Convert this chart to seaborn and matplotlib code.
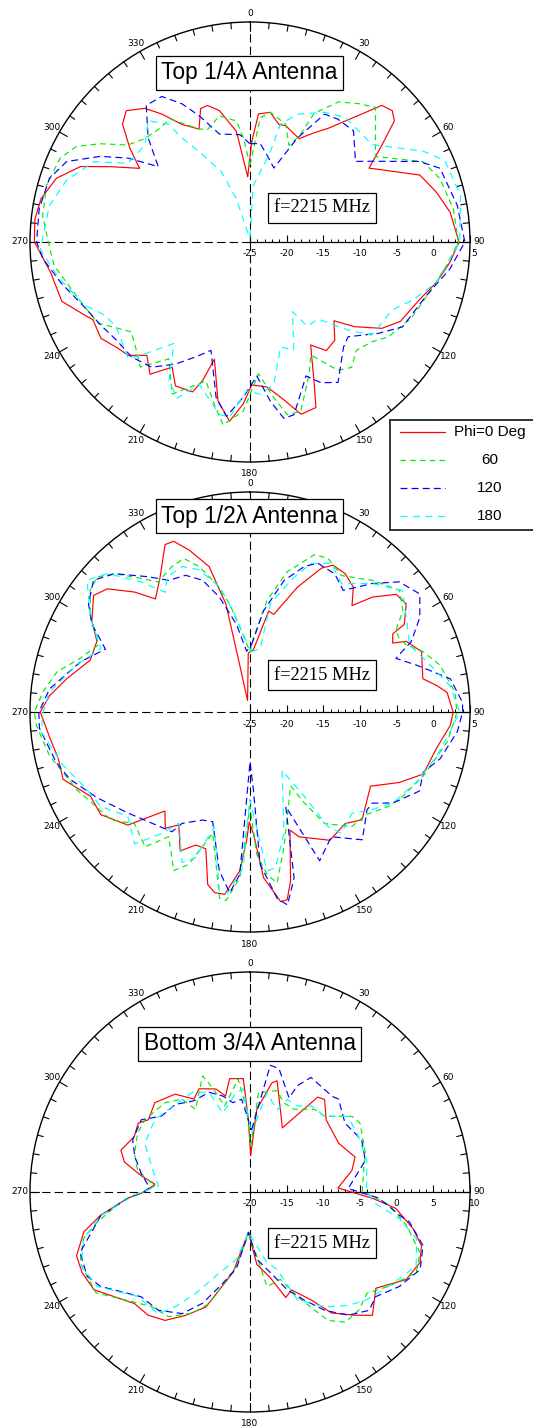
import numpy as np
import pandas as pd
import matplotlib
matplotlib.use("Agg")
import matplotlib.pyplot as plt
from matplotlib.patches import Rectangle
from matplotlib.transforms import ScaledTranslation
import seaborn as sns

sns.set_style("white")
plt.rcParams["font.family"] = ["DejaVu Sans"]
plt.rcParams["text.color"] = "black"
plt.rcParams["lines.scale_dashes"] = False

# ---------------- Top 1/4 lambda antenna (dB vs. theta, deg) ----------------
q_ang_phi0 = [1.0, 3.8, 8.9, 13.8, 17.0, 25.4, 30.5, 34.5, 44.0, 47.3, 50.0, 53.6, 58.2, 59.8, 68.5, 75.0, 81.6, 90.0,
              95.8, 102.3, 108.8, 117.8, 123.2, 128.9, 133.2, 139.2, 144.9, 149.5, 155.7, 158.3, 163.5, 167.9, 173.3,
              179.3, 182.4, 186.5, 191.4, 196.9, 198.9, 201.0, 207.4, 211.9, 217.1, 222.3, 227.1, 231.1, 237.1, 243.7,
              246.3, 252.5, 261.3, 270.0, 276.0, 281.7, 288.2, 294.0, 298.4, 303.7, 308.0, 312.8, 316.7, 321.8, 325.4,
              330.0, 335.7, 339.7, 342.7, 346.9, 353.0, 358.0]
q_db_phi0 = [-11.3, -7.5, -7.1, -8.5, -8.4, -9.4, -7.7, -6.2, 0.9, 1.4, 0.7, -2.6, -5.9, -5.2, -0.1, 1.3, 2.6, 3.5,
             2.4, 1.0, -0.6, -1.8, -3.5, -6.6, -9.3, -7.3, -6.9, -8.7, -3.7, -0.7, -0.5, -3.0, -5.1,
             -5.5, -2.9, -0.4, -2.9, -8.3, -5.0, -3.1, -2.9, -4.9, -2.4, -4.1, -2.3, -1.9, -0.8, -1.1,
             -0.3, 1.9, 2.5, 4.4, 4.5, 4.1, 2.8, 0.3, -3.4, -6.9, -4.2, -1.3, -0.4, -1.8, -3.8,
             -6.5, -8.1, -5.6, -5.5, -6.6, -9.8, -16.1]
q_ang_phi60 = [0.0, 4.7, 8.9, 16.8, 22.0, 25.0, 26.5, 32.3, 38.2, 43.0, 55.7, 65.1, 71.5, 80.8, 90.0, 96.9, 105.8,
               115.3, 124.3, 129.3, 135.5, 141.0, 145.6, 151.7, 155.8, 163.3, 167.8, 171.3, 176.3, 182.3, 188.4,
               192.3, 197.6, 202.7, 207.1, 214.8, 221.3, 225.9, 232.9, 241.9, 250.7, 263.1, 270.0, 277.2, 285.6,
               293.8, 298.9, 303.3, 308.4, 314.5, 320.9, 327.0, 335.7, 339.4, 346.4, 353.6, 356.3]
q_db_phi60 = [-14.5, -8.0, -7.1, -8.2, -10.8, -9.0, -5.4, -2.4, -1.0, 0.1, -4.3, 1.0, 2.3, 3.1, 3.4, 2.0, 0.4,
              -0.7, -2.1, -3.5, -4.3, -3.0, -3.8, -7.5, -5.3, -0.9, -0.9, -3.5, -7.0, -1.9, 0.2,
              -2.3, -5.1, -3.5, -1.7, -5.6, -2.3, -3.5, -4.7, -1.5, -0.5, 1.9, 2.5, 3.5, 3.8,
              3.3, 2.0, -0.6, -3.7, -4.9, -5.2, -5.0, -8.1, -8.6, -7.3, -8.4, -10.7]
q_ang_phi120 = [0.0, 5.9, 11.0, 17.9, 24.5, 30.3, 35.7, 43.0, 52.6, 56.6, 64.6, 68.8, 80.0, 90.0, 97.7, 107.1, 119.1,
                125.4, 134.0, 138.4, 147.9, 153.2, 157.3, 165.7, 169.1, 172.7, 177.1, 182.5, 187.7, 192.3, 199.8,
                205.2, 211.4, 218.1, 225.8, 233.7, 240.9, 248.8, 257.9, 265.3, 270.0, 278.9, 287.6, 293.7, 299.8,
                304.5, 309.4, 315.7, 322.8, 328.8, 333.8, 338.0, 344.2, 354.6]
q_db_phi120 = [-11.6, -11.5, -12.9, -14.4, -9.4, -4.8, -4.4, -4.3, -6.9, -5.0, 0.6, 2.8, 3.7, 4.3, 2.5, 0.1, -1.2,
               -3.5, -6.4, -5.8, -2.4, -3.5, -5.2, -0.7, -0.5, -3.1, -6.7, -3.8, -1.0, -3.3, -9.3,
               -7.7, -5.5, -3.3, -2.5, -2.4, -1.7, -0.7, 1.4, 3.3, 4.1, 4.1, 3.7, 2.3, -1.5,
               -4.8, -8.8, -5.1, -1.6, -1.8, -4.0, -6.4, -9.7, -10.3]
q_ang_phi180 = [0.0, 3.4, 12.7, 14.5, 20.4, 29.9, 37.3, 51.4, 62.4, 67.3, 77.5, 90.0, 102.3, 109.5, 115.5, 127.4,
                131.9, 138.6, 145.8, 148.6, 157.9, 163.8, 170.5, 176.2, 181.3, 186.6, 190.0, 199.7, 205.0, 210.3,
                216.9, 223.2, 226.2, 237.7, 243.4, 249.3, 260.0, 268.0, 280.3, 288.6, 297.3, 302.8, 312.8, 320.0,
                325.3, 326.9, 331.4, 337.7, 342.5, 356.0]
q_db_phi180 = [-24.2, -17.3, -12.4, -8.4, -6.4, -4.6, -3.6, -3.7, 1.7, 3.8, 4.4, 3.6, 1.0, -1.4, -3.5, -4.1,
               -7.0, -11.0, -11.1, -13.9, -9.1, -10.1, -5.3, -4.2, -4.7, -1.0, -1.1, -4.4, -1.5, -3.1,
               -7.7, -4.1, -2.0, -3.4, -2.8, -0.8, 1.7, 3.6, 2.8, 1.4, -1.1, -5.2, -5.5, -3.4,
               -5.5, -8.1, -11.4, -14.6, -18.8, -24.5]

# ---------------- Top 1/2 lambda antenna ----------------
h_ang_phi0 = [3.1, 10.5, 13.7, 20.8, 26.4, 29.5, 34.5, 39.6, 43.8, 46.8, 51.2, 55.3, 60.4, 61.3, 64.2, 65.7, 70.6,
              79.1, 81.9, 84.3, 90.0, 93.7, 101.1, 109.7, 115.3, 121.6, 133.9, 139.5, 148.1, 158.5, 161.3, 166.5,
              168.8, 170.8, 175.3, 178.4, 180.4, 181.5, 183.7, 187.9, 191.1, 193.8, 197.9, 202.2, 206.7, 212.2,
              216.1, 220.7, 227.2, 235.5, 242.2, 250.2, 256.3, 262.5, 270.0, 274.7, 280.3, 288.0, 294.8, 300.0,
              306.7, 310.8, 316.1, 320.1, 326.3, 333.1, 335.9, 339.4, 344.3, 347.4, 347.6, 348.0, 358.3]
h_db_phi0 = [-16.5, -11.0, -11.3, -6.8, -3.1, -2.0, -2.1, -2.9, -4.9, -2.1, 0.6, 0.9, -0.8, -2.8, -3.4, -1.6, -0.2,
             -1.0, 0.7, 2.0, 2.7, 2.4, 0.9, 0.1, -2.5, -5.7, -3.8, -5.0, -4.4, -6.7, -8.0, -1.3,
             1.1, 1.2, -2.3, -8.4, -10.0, -7.5, -3.3, 0.1, 0.1, -0.8, -5.4, -5.4, -3.8, -6.8,
             -5.4, -7.2, -2.3, -0.3, -0.4, 2.1, 1.9, 2.5, 3.6, 2.4, 0.4, -2.1, -2.0, -0.1,
             1.6, 0.7, -2.3, -4.9, -2.9, 0.6, 0.5, -1.4, -4.4, -9.9, -16.6, -23.4, -17.0]
h_ang_phi60 = [0.0, 2.6, 8.7, 14.9, 22.3, 26.9, 33.8, 42.9, 50.9, 56.5, 61.0, 63.6, 66.7, 70.8, 76.2, 84.5, 90.0,
               91.7, 98.6, 110.2, 118.9, 124.1, 131.7, 138.4, 146.2, 149.2, 151.2, 165.9, 171.0, 174.0, 177.3,
               180.0, 183.5, 187.2, 189.3, 197.1, 201.9, 205.7, 213.1, 217.9, 226.0, 232.2, 245.9, 257.8, 266.5,
               270.0, 275.4, 281.7, 287.5, 294.0, 300.6, 307.3, 311.5, 315.6, 320.8, 324.8, 331.7, 336.7, 340.7,
               345.2, 349.3, 354.0]
h_db_phi60 = [-16.8, -14.9, -9.6, -5.2, -1.8, -1.5, -2.6, -0.5, 1.3, 0.0, -2.3, -2.3, -1.8, 0.0, 1.7, 3.1, 3.2,
              3.0, 2.2, 0.2, -1.2, -2.1, -3.9, -4.1, -6.7, -10.6, -13.5, -6.0, -1.4, -2.7, -5.6,
              -12.1, -2.4, 0.9, 0.7, -7.7, -2.6, -1.0, -4.7, -1.7, -3.1, -1.0, 0.9, 3.0, 4.2,
              4.4, 3.4, 1.9, -0.7, -2.4, 0.3, 2.4, 2.8, 1.4, -1.5, -3.3, -2.5, -2.2, -4.0,
              -6.9, -10.0, -13.9]
h_ang_phi120 = [1.4, 7.6, 14.5, 20.5, 24.5, 31.5, 37.5, 43.6, 48.9, 55.2, 60.9, 66.4, 69.8, 74.3, 80.6, 87.4, 90.0,
                95.4, 103.8, 109.2, 115.0, 122.5, 126.7, 129.9, 138.7, 146.9, 154.9, 159.3, 165.1, 169.0, 171.7,
                176.2, 177.5, 180.0, 183.6, 186.4, 190.9, 198.8, 203.8, 211.4, 213.1, 222.9, 230.4, 240.7, 249.5,
                255.4, 265.6, 270.0, 276.6, 286.5, 293.5, 299.0, 303.8, 310.1, 315.6, 323.0, 328.3, 334.8, 340.2,
                345.1, 351.2, 356.8]
h_db_phi120 = [-15.8, -11.1, -6.5, -3.8, -2.7, -2.9, -4.1, -0.8, 2.0, 3.2, 1.5, -1.0, -3.8, -1.4, 2.7, 4.0, 4.0,
               3.4, 1.7, 0.0, 0.5, -1.9, -4.2, -4.2, -1.8, -4.7, -2.6, -11.2, -1.6, 1.8, 0.7,
               -4.2, -14.4, -18.2, -2.8, -0.2, -2.9, -9.2, -8.9, -7.2, -5.5, -4.6, -3.4, -1.1, 1.2,
               2.3, 3.8, 3.8, 2.5, -0.9, -3.5, -0.4, 1.5, 2.9, 1.4, -1.9, -3.9, -4.4, -5.9,
               -8.8, -12.9, -16.7]
h_ang_phi180 = [1.0, 9.1, 10.7, 17.2, 22.3, 28.7, 35.5, 43.6, 51.5, 58.9, 67.2, 75.4, 82.5, 90.0, 93.6, 103.1,
                113.0, 122.5, 128.7, 134.8, 143.0, 145.8, 147.2, 151.2, 164.4, 170.7, 173.9, 177.8, 180.2, 182.5,
                187.0, 189.7, 197.3, 200.5, 204.3, 212.6, 216.0, 221.2, 229.5, 237.7, 246.0, 254.0, 264.6, 270.0,
                275.6, 285.1, 293.1, 300.6, 309.0, 314.2, 320.1, 324.7, 328.4, 335.0, 340.3, 346.3, 350.5, 355.0]
h_db_phi180 = [-16.8, -16.2, -10.0, -6.2, -3.1, -1.9, -3.5, -0.8, 1.6, -0.1, -1.4, 0.4, 2.5, 3.6, 2.8, 1.2,
               -0.4, -1.9, -3.7, -5.4, -4.3, -6.1, -11.3, -15.9, -7.8, -3.5, -3.2, -10.7, -13.1, -3.8,
               -0.1, -0.2, -8.6, -3.8, -2.5, -7.0, -4.5, -1.1, -3.1, -0.9, -0.2, 1.5, 3.6, 3.2,
               2.5, -0.5, -2.9, 0.3, 3.6, 2.1, -1.9, -5.0, -3.4, -3.1, -4.4, -7.4, -11.0, -14.4]

# ---------------- Bottom 3/4 lambda antenna ----------------
b_ang_phi0 = [1.0, 4.7, 11.4, 13.7, 26.8, 35.5, 38.9, 46.6, 61.2, 71.6, 78.1, 87.4, 92.9, 96.4, 102.7, 107.4, 112.6,
              119.3, 127.4, 135.2, 139.5, 146.0, 150.5, 157.0, 161.3, 166.7, 174.6, 182.4, 191.9, 201.0, 207.6,
              213.5, 219.6, 226.0, 237.9, 244.3, 249.8, 256.5, 261.2, 267.1, 270.0, 274.7, 278.5, 283.4, 287.9,
              295.6, 301.6, 305.4, 313.2, 322.6, 328.9, 333.7, 341.7, 345.7, 349.8, 356.6, 358.7]
b_db_phi0 = [-15.0, -8.7, -4.8, -4.4, -10.2, -4.1, -3.8, -5.7, -6.2, -4.9, -5.8, -8.0, -3.3, 0.0, 2.8, 4.5, 5.1,
             4.4, 1.6, 3.7, 2.1, -0.1, -3.1, -5.5, -4.8, -8.0, -10.1, -14.5, -8.8, -3.2, -1.0,
             1.0, 1.8, 1.9, 5.1, 5.4, 5.2, 3.3, 0.6, -3.3, -5.6, -7.0, -5.0, -2.4, -1.5,
             -2.5, -2.1, -3.0, -2.2, -3.2, -5.2, -4.3, -5.2, -6.5, -4.3, -4.5, -10.1]
b_ang_phi60 = [1.0, 4.9, 15.0, 20.8, 28.1, 38.0, 44.6, 53.4, 58.0, 71.6, 77.7, 90.0, 91.3, 95.3, 102.0, 109.6,
               115.9, 124.1, 130.8, 137.4, 143.8, 148.7, 151.4, 155.6, 160.8, 169.8, 173.9, 182.0, 190.4, 200.1,
               205.4, 213.1, 220.6, 227.3, 236.8, 247.4, 254.3, 258.9, 265.8, 270.0, 273.7, 280.8, 288.4, 297.7,
               304.5, 316.5, 323.8, 326.6, 337.8, 340.3, 343.5, 354.0, 357.6]
b_db_phi60 = [-13.8, -6.4, -5.7, -7.0, -7.2, -5.7, -5.5, -2.7, -2.3, -3.4, -4.1, -4.7, -3.8, -0.9, 1.8, 4.6,
              5.2, 2.9, 1.1, 1.9, 2.0, 0.5, -1.7, -4.3, -7.4, -6.9, -11.2, -14.3, -9.7, -3.8,
              -1.7, 0.3, 0.6, 2.0, 5.1, 5.1, 3.6, 1.2, -2.4, -5.5, -7.0, -4.4, -3.4, -2.7,
              -2.6, -3.2, -4.3, -6.5, -2.9, -4.9, -7.8, -4.5, -8.7]
b_ang_phi120 = [1.5, 9.1, 13.2, 22.5, 24.1, 28.0, 40.8, 43.6, 54.1, 65.1, 74.7, 88.0, 92.7, 98.8, 100.6, 107.2,
                114.5, 122.3, 129.8, 134.8, 141.4, 147.7, 153.3, 159.1, 164.2, 174.2, 182.0, 190.0, 196.6, 203.1,
                209.2, 217.8, 226.1, 237.7, 242.7, 250.4, 261.0, 267.9, 270.0, 272.5, 279.4, 286.9, 293.9, 303.6,
                310.6, 319.5, 328.4, 337.7, 344.2, 349.2, 354.8, 356.5]
b_db_phi120 = [-11.5, -2.5, -2.7, -6.1, -4.1, -2.3, -2.8, -2.5, -4.0, -3.2, -3.7, -6.6, -2.4, 0.6, 2.1, 4.7,
               5.5, 4.1, 2.3, 2.9, 1.5, -0.9, -3.5, -5.7, -8.1, -10.8, -14.5, -9.5, -7.0, -3.5,
               -1.0, 0.4, 0.6, 4.1, 5.0, 4.6, 0.6, -3.8, -5.5, -6.3, -5.0, -3.6, -2.5, -2.2,
               -4.1, -4.3, -5.4, -5.3, -6.4, -7.6, -7.3, -8.7]
b_ang_phi180 = [1.5, 9.7, 18.2, 21.9, 29.0, 35.4, 44.6, 52.4, 63.0, 74.9, 88.0, 94.4, 100.1, 105.7, 114.0, 124.1,
                133.1, 138.9, 146.9, 156.2, 160.7, 166.5, 172.8, 182.0, 191.4, 200.7, 208.2, 213.1, 217.0, 227.0,
                238.3, 246.2, 254.3, 261.0, 268.7, 273.8, 284.1, 294.8, 307.3, 319.5, 329.9, 337.7, 341.0, 352.2,
                356.2]
b_db_phi180 = [-12.0, -6.3, -8.2, -6.4, -6.6, -5.6, -5.5, -3.1, -3.4, -3.5, -4.1, -3.3, 0.7, 3.6, 4.8, 2.9,
               1.6, 0.5, -1.3, -3.9, -8.8, -10.1, -12.6, -14.5, -10.6, -8.2, -4.3, -1.3, 0.8, 0.9,
               4.5, 5.1, 3.6, 0.6, -4.3, -7.5, -6.2, -4.2, -3.7, -4.3, -4.3, -5.3, -8.6, -6.3,
               -5.9]

series_labels = ["Phi=0 Deg", "60", "120", "180"]
series_colors = ["#ff0000", "#00ee00", "#0000ff", "#00ffff"]
series_styles = ["-", (0, (4, 3)), (0, (5, 3)), (0, (5, 4))]

panel_titles = ["Top 1/4\u03bb Antenna", "Top 1/2\u03bb Antenna", "Bottom 3/4\u03bb Antenna"]
panel_ranges = [(-25, 5), (-25, 5), (-20, 10)]
freq_label = "f=2215 MHz"

# ---------------- layout (pixels) ----------------
W, H, DPI = 533, 1426, 100
R = 220
CX = 250
centers_y = [242, 712, 1192]
title_y = [73, 516, 1044]
fbox_y = [208, 675, 1243]

fig = plt.figure(figsize=(W / DPI, H / DPI), dpi=DPI)


def draw_panel(cy, rmin, rmax, curves):
    ax = fig.add_axes([(CX - R) / W, 1 - (cy + R) / H, 2 * R / W, 2 * R / H], projection="polar")
    ax.set_theta_zero_location("N")
    ax.set_theta_direction(-1)
    ax.patch.set_alpha(0)
    k = (rmax - rmin) / R  # dB per pixel

    for (ang, db), color, ls in zip(curves, series_colors, series_styles):
        df = pd.DataFrame({"theta": np.deg2rad(ang + [ang[0] + 360.0]), "gain": db + [db[0]]})
        sns.lineplot(data=df, x="theta", y="gain", ax=ax, sort=False, estimator=None,
                     color=color, lw=0.85, linestyle=ls, legend=False, zorder=3)

    # reference cross: dashed vertical, dashed left half, solid scale on the right
    for th in (0.0, np.pi, 1.5 * np.pi):
        ax.plot([th, th], [rmin, rmax], color="k", lw=0.8, ls=(0, (6, 3)), zorder=2)
    ax.plot([0.5 * np.pi] * 2, [rmin, rmax], color="k", lw=0.9, zorder=2)

    minor = np.arange(rmin, rmax + 1, 1)
    major = np.arange(rmin, rmax + 1, 5)
    ax.plot([0.5 * np.pi] * len(minor), minor, ls="none", marker=2, ms=2.3, mew=0.7, color="k", clip_on=False)
    ax.plot([0.5 * np.pi] * len(major), major, ls="none", marker=2, ms=4.8, mew=0.8, color="k", clip_on=False)
    for v in major:
        dx = 0.045 if v == rmax else 0.0
        ax.text(0.5 * np.pi, v, f"{v:d}", fontsize=6.5, ha="center", va="center",
                transform=ax.transData + ScaledTranslation(dx, -0.12, fig.dpi_scale_trans))

    # ticks on the rim
    for a in range(0, 360, 5):
        ln = 9 if a % 30 == 0 else 6
        th = np.deg2rad(a)
        ax.plot([th, th], [rmax, rmax - ln * k], color="k", lw=0.8, clip_on=False, zorder=2)
    for a in range(0, 360, 30):
        th = np.deg2rad(a)
        if a == 90:
            ax.text(th, rmax + 3 * k, "90", fontsize=6.5, ha="left", va="center")
        elif a == 270:
            ax.text(th, rmax + 1.5 * k, "270", fontsize=6.5, ha="right", va="center")
        elif a == 180:
            ax.text(th, rmax + 12 * k, "180", fontsize=6.5, ha="center", va="center")
        else:
            ax.text(th, rmax + 9 * k, str(a), fontsize=6.5, ha="center", va="center")

    ax.set_ylim(rmin, rmax)
    ax.set_xticks([])
    ax.set_yticks([])
    ax.grid(False)
    ax.set_xlabel("")
    ax.set_ylabel("")
    ax.spines["polar"].set_linewidth(1.0)
    ax.spines["polar"].set_color("k")
    return ax


panels = [
    [(q_ang_phi0, q_db_phi0), (q_ang_phi60, q_db_phi60), (q_ang_phi120, q_db_phi120), (q_ang_phi180, q_db_phi180)],
    [(h_ang_phi0, h_db_phi0), (h_ang_phi60, h_db_phi60), (h_ang_phi120, h_db_phi120), (h_ang_phi180, h_db_phi180)],
    [(b_ang_phi0, b_db_phi0), (b_ang_phi60, b_db_phi60), (b_ang_phi120, b_db_phi120), (b_ang_phi180, b_db_phi180)],
]

for cy, (rmin, rmax), curves in zip(centers_y, panel_ranges, panels):
    draw_panel(cy, rmin, rmax, curves)

# overlay in pixel coordinates for the boxed captions and the legend
ov = fig.add_axes([0, 0, 1, 1])
ov.set_xlim(0, W)
ov.set_ylim(H, 0)
ov.axis("off")
ov.set_zorder(10)

for ty, fy, title in zip(title_y, fbox_y, panel_titles):
    ov.text(CX - 0.5, ty, title, fontsize=16.4, family="Liberation Sans", color="black", ha="center", va="center",
            bbox=dict(boxstyle="square,pad=0.25", fc="white", ec="black", lw=0.9))
    ov.text(322, fy, freq_label, fontsize=13.3, family="Liberation Serif", color="black", ha="center", va="center",
            bbox=dict(boxstyle="square,pad=0.33", fc="white", ec="black", lw=0.9))

ov.add_patch(Rectangle((390, 420), 170, 110, fc="white", ec="#333333", lw=1.4, zorder=5))
for i, (lab, col, ls) in enumerate(zip(series_labels, series_colors, series_styles)):
    y = 432 + i * 28
    ov.plot([400, 445], [y, y], color=col, ls=ls, lw=0.9, zorder=6)
    ov.text(490, y, lab, fontsize=11, family="Liberation Sans", color="black", ha="center", va="center", zorder=6)

fig.savefig("out.png", dpi=DPI)
